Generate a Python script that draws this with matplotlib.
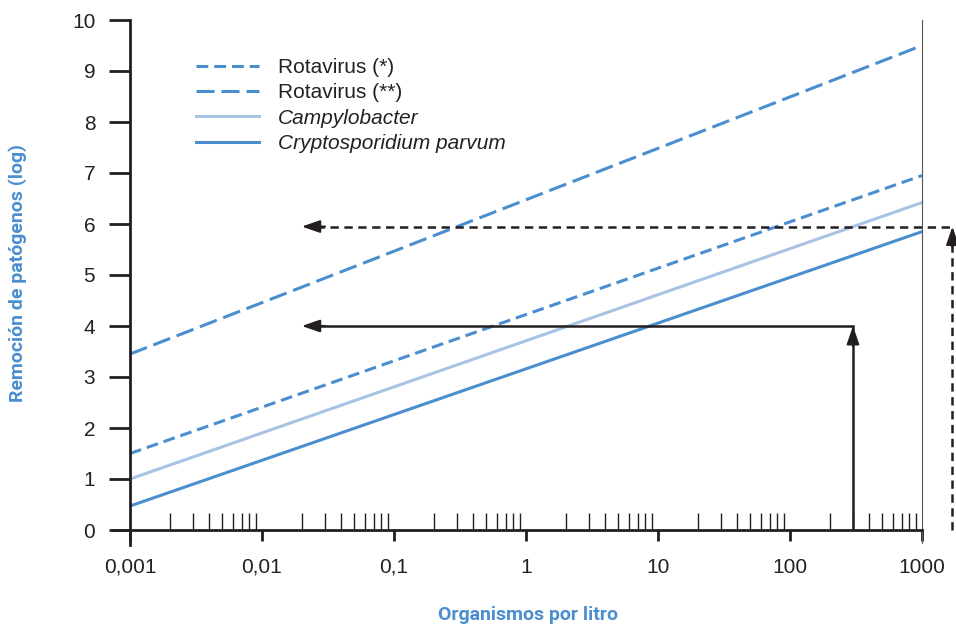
import matplotlib.pyplot as plt
import numpy as np
from matplotlib.ticker import FixedLocator, LogLocator, NullFormatter

plt.rcParams['font.family'] = ['Liberation Sans', 'DejaVu Sans']
plt.rcParams['lines.scale_dashes'] = False

# datos (log de organismos por litro vs remoción log)
x_ends = [0.001, 1000]
rota1 = [1.5, 6.95]
rota2 = [3.45, 9.5]
campy = [1.0, 6.42]
crypto = [0.47, 5.85]

xticks = [0.001, 0.01, 0.1, 1, 10, 100, 1000]
xtick_labels = ['0,001', '0,01', '0,1', '1', '10', '100', '1000']
yticks = list(range(0, 11))

# flechas: ejemplo de lectura
arrow1_x, arrow1_y = 300, 4.0
arrow2_x, arrow2_y = 1700, 5.95
arrow_tip_x = 0.02

blue = '#4a8ecf'
light = '#a8c3e3'
ink = '#231f20'

fig = plt.figure(figsize=(9.56, 6.27), dpi=100)
ax = fig.add_axes([130/956, 1-530/627, (922-130)/956, (530-20)/627])

ax.plot(x_ends, rota1, color=blue, lw=2.2, dashes=(8.5, 4.3), label='Rotavirus (*)')
ax.plot(x_ends, rota2, color=blue, lw=2.2, dashes=(13, 5), label='Rotavirus (**)')
ax.plot(x_ends, campy, color=light, lw=2.2, label='Campylobacter')
ax.plot(x_ends, crypto, color=blue, lw=2.2, label='Cryptosporidium parvum')

ax.set_xscale('log')
ax.set_xlim(0.001, 1000)
ax.set_ylim(0, 10)

# flecha continua
ax.plot([arrow1_x, arrow1_x, arrow_tip_x * 1.12], [0, arrow1_y, arrow1_y],
        color=ink, lw=1.8, solid_joinstyle='miter')
# flecha discontinua
ax.plot([arrow2_x, arrow2_x, arrow_tip_x * 1.12], [0, arrow2_y, arrow2_y],
        color=ink, lw=1.8, dashes=(6, 4), clip_on=False)

head = dict(arrowstyle='-|>,head_length=1.1,head_width=0.38', color=ink, lw=1.5,
            shrinkA=0, shrinkB=0)
ax.annotate('', xy=(arrow_tip_x, arrow1_y), xytext=(arrow_tip_x * 1.5, arrow1_y),
            arrowprops=head)
ax.annotate('', xy=(arrow1_x, arrow1_y), xytext=(arrow1_x, arrow1_y - 0.4),
            arrowprops=head)
ax.annotate('', xy=(arrow_tip_x, arrow2_y), xytext=(arrow_tip_x * 1.5, arrow2_y),
            arrowprops=head, annotation_clip=False)
ax.annotate('', xy=(arrow2_x, arrow2_y), xytext=(arrow2_x, arrow2_y - 0.4),
            arrowprops=head, annotation_clip=False)

# ejes
ax.spines['top'].set_visible(False)
ax.spines['right'].set_linewidth(0.8)
ax.spines['right'].set_color('#555555')
ax.spines['right'].set_bounds(-0.25, 10)
ax.spines['left'].set_linewidth(2)
ax.spines['bottom'].set_linewidth(2)
ax.spines['left'].set_color(ink)
ax.spines['bottom'].set_color(ink)
ax.spines['left'].set_bounds(-0.3, 10)
ax.spines['bottom'].set_bounds(10**-3.13, 1000)

ax.xaxis.set_major_locator(FixedLocator(xticks))
ax.set_xticklabels(xtick_labels)
ax.xaxis.set_minor_locator(LogLocator(base=10, subs=np.arange(2, 10), numticks=20))
ax.xaxis.set_minor_formatter(NullFormatter())
ax.set_yticks(yticks)
ax.tick_params(axis='x', which='major', direction='out', length=8, width=2,
               colors=ink, labelsize=15, pad=12)
ax.tick_params(axis='x', which='minor', direction='in', length=12, width=1, colors=ink)
ax.tick_params(axis='y', direction='out', length=15, width=2, colors=ink,
               labelsize=15, pad=10)
for lab in ax.get_xticklabels() + ax.get_yticklabels():
    lab.set_color('#222222')

lbl_font = ['Liberation Sans Narrow', 'Roboto', 'DejaVu Sans']
fig.text(528/956, 1-615/627, 'Organismos por litro', color=blue, fontsize=14,
         fontweight='bold', family=lbl_font, ha='center', va='center')
fig.text(18/956, 1-273/627, 'Remoción de patógenos (log)', color=blue, fontsize=14,
         fontweight='bold', family=lbl_font, ha='center', va='center', rotation=90)

leg = ax.legend(loc='upper left', bbox_to_anchor=(0.06, 0.962), frameon=False,
                fontsize=15, handlelength=3.0, handletextpad=0.9, labelspacing=0.3)
for t in leg.get_texts()[2:]:
    t.set_style('italic')
for t in leg.get_texts():
    t.set_color('#222222')

fig.savefig('out.png', dpi=100)
